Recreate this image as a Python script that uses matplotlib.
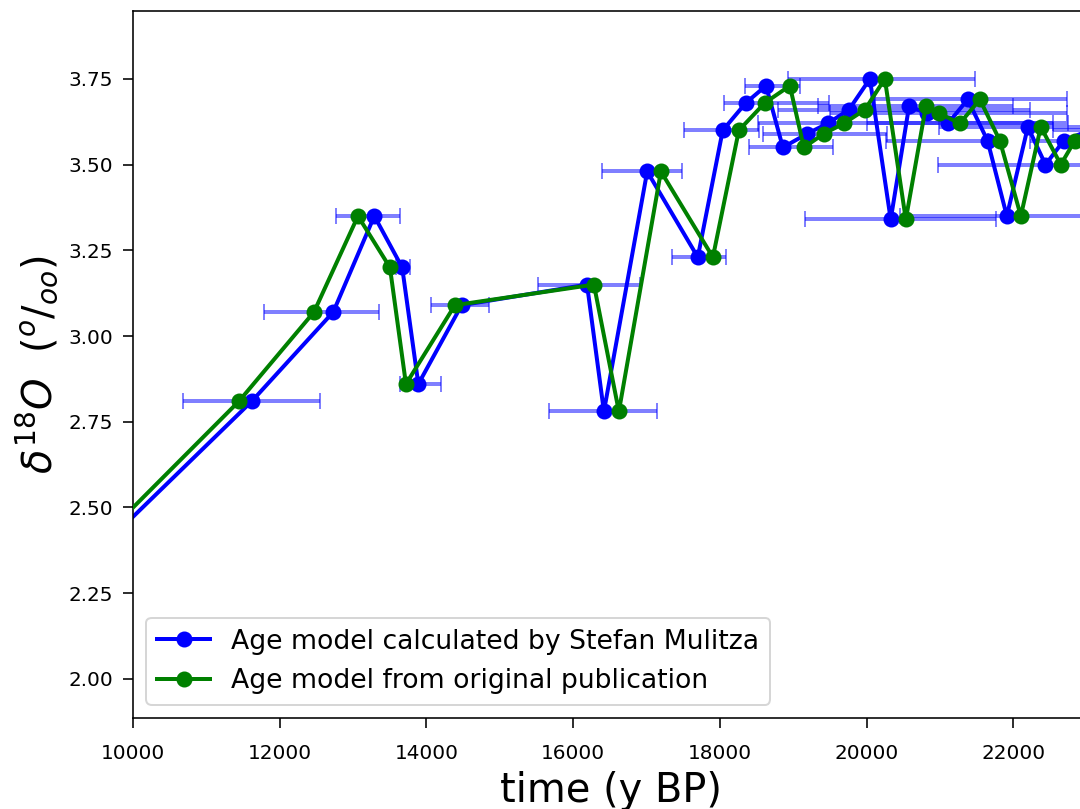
import numpy as np
import matplotlib
matplotlib.use('Agg')
import matplotlib.pyplot as plt

# d18O values, shared by both age models
d18o = [2.30, 2.81, 3.07, 3.35, 3.20, 2.86, 3.09, 3.15, 2.78, 3.48,
        3.23, 3.60, 3.68, 3.73, 3.55, 3.59, 3.62, 3.66, 3.75, 3.34,
        3.67, 3.65, 3.62, 3.69, 3.57, 3.35, 3.61, 3.50, 3.57, 3.60]

# age model calculated by Stefan Mulitza (y BP)
age_mulitza = [9170, 11620, 12730, 13290, 13670, 13890, 14480, 16190, 16420, 17010,
               17700, 18040, 18355, 18630, 18860, 19190, 19470, 19760, 20046, 20330,
               20580, 20820, 21110, 21380, 21650, 21913, 22200, 22440, 22690, 23040]

# age uncertainty (lower / upper, years)
age_err_lo = [500, 940, 940, 520, 90, 250, 420, 670, 750, 615,
              355, 530, 300, 285, 465, 600, 955, 970, 1120, 1170,
              1240, 1320, 1110, 1270, 1380, 1460, 1210, 1460, 460, 500]
age_err_hi = [500, 930, 630, 350, 110, 310, 370, 720, 720, 475,
              380, 500, 1130, 460, 680, 1090, 3070, 2470, 1430, 1430,
              1420, 1910, 1640, 1350, 0, 1500, 1000, 1000, 800, 800]

# age model from the original publication (y BP)
age_original = [9070, 11445, 12467, 13067, 13503, 13721, 14389, 16284, 16624, 17197,
                17906, 18260, 18614, 18955, 19146, 19418, 19691, 19977, 20250, 20536,
                20809, 20986, 21272, 21545, 21818, 22104, 22376, 22649, 22840, 23180]

fig = plt.figure(figsize=(7.5, 809 / 144), dpi=144)
# axes runs a little past the right edge of the picture
ax = fig.add_axes([133 / 1080, 91 / 809, 956 / 1080, 707 / 809])

ax.errorbar(age_mulitza, d18o, xerr=[age_err_lo, age_err_hi], fmt='none',
            ecolor='blue', alpha=0.5, elinewidth=2, capsize=4, capthick=1, zorder=1)
ax.plot(age_mulitza, d18o, 'o-', color='blue', lw=2, ms=7, zorder=2,
        label='Age model calculated by Stefan Mulitza')
ax.plot(age_original, d18o, 'o-', color='green', lw=2, ms=7, zorder=3,
        label='Age model from original publication')

ax.set_xlim(10000, 10000 + 956 * 2000 / 146.7)
ax.set_ylim(1.886, 3.948)
ax.set_xticks(np.arange(10000, 23000, 2000))
ax.set_yticks(np.arange(2.0, 4.0, 0.25))
ax.tick_params(length=5)
ax.tick_params(axis='x', pad=8)
ax.tick_params(axis='y', pad=5)

ax.set_xlabel('time (y BP)', fontsize=20)
ax.set_ylabel(r'$\delta^{18}O$  ($^{o}/_{oo}$)', fontsize=20)
ax.legend(loc='lower left', fontsize=13.3)

fig.savefig('out.png', dpi=144)
